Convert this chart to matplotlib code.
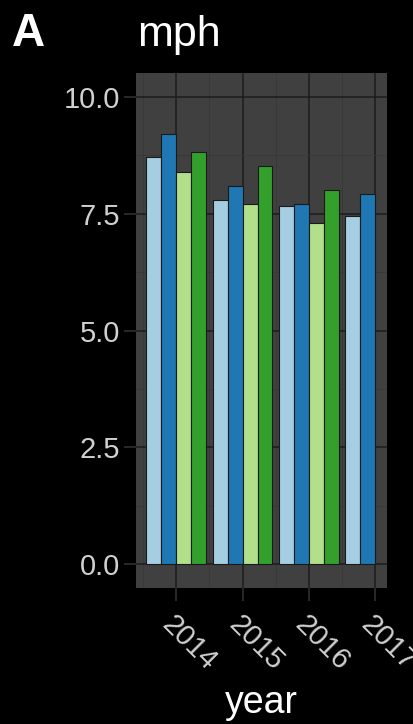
import numpy as np
import matplotlib
matplotlib.use('Agg')
import matplotlib.pyplot as plt
from matplotlib.ticker import MultipleLocator, FixedLocator

plt.rcParams['font.family'] = ['Liberation Sans', 'DejaVu Sans']

# data
years = ['2014', '2015', '2016', '2017']
light_blue = [8.70, 7.78, 7.66, 7.44]
blue = [9.20, 8.08, 7.70, 7.91]
light_green = [8.38, 7.71, 7.29, np.nan]
green = [8.81, 8.51, 8.01, np.nan]

series = [light_blue, blue, light_green, green]
colors = ['#A6CEE3', '#1F78B4', '#B2DF8A', '#33A02C']

fig = plt.figure(figsize=(4.13, 7.24), dpi=100, facecolor='black')
ax = fig.add_axes([0.329, 0.188, 0.607, 0.711])
ax.set_facecolor('#404040')

x = np.arange(len(years))
w = 0.225
for i, (vals, c) in enumerate(zip(series, colors)):
    ax.bar(x + (i - 1.5) * w, vals, width=w, color=c, edgecolor='#1a1a1a',
           linewidth=0.8, zorder=3)

ax.set_xlim(-0.61, 3.17)
ax.set_ylim(-0.5, 10.5)
ax.set_xticks(x)
ax.set_xticklabels(years)
ax.xaxis.set_minor_locator(FixedLocator(x - 0.5))
ax.yaxis.set_major_locator(MultipleLocator(2.5))
ax.yaxis.set_minor_locator(MultipleLocator(1.25))
ax.set_yticklabels([f'{v:.1f}' for v in ax.get_yticks()])

ax.grid(which='major', color='#1c1c1c', linewidth=1.1, zorder=1)
ax.grid(which='minor', color='#383838', linewidth=0.6, zorder=1)
ax.set_axisbelow(True)
for s in ax.spines.values():
    s.set_visible(False)

ax.tick_params(which='major', length=9, width=1.1, color='#333333',
               labelcolor='#d0d0d0', labelsize=21)
ax.tick_params(axis='y', pad=2.5)
ax.tick_params(axis='x', pad=7)
ax.tick_params(which='minor', length=0)
for lab in ax.get_xticklabels():
    lab.set_rotation(-45)
    lab.set_ha('left')
    lab.set_va('top')
    lab.set_rotation_mode('anchor')

# titles placed directly in figure coords
fig.text(0.633, 0.0148, 'year', color='white', fontsize=27, ha='center', va='baseline')
fig.text(0.331, 0.9365, 'mph', color='white', fontsize=31, ha='left', va='baseline')
fig.text(0.028, 0.9365, 'A', color='white', fontsize=33, fontweight='bold', va='baseline')

fig.savefig('out.png', facecolor='black')
